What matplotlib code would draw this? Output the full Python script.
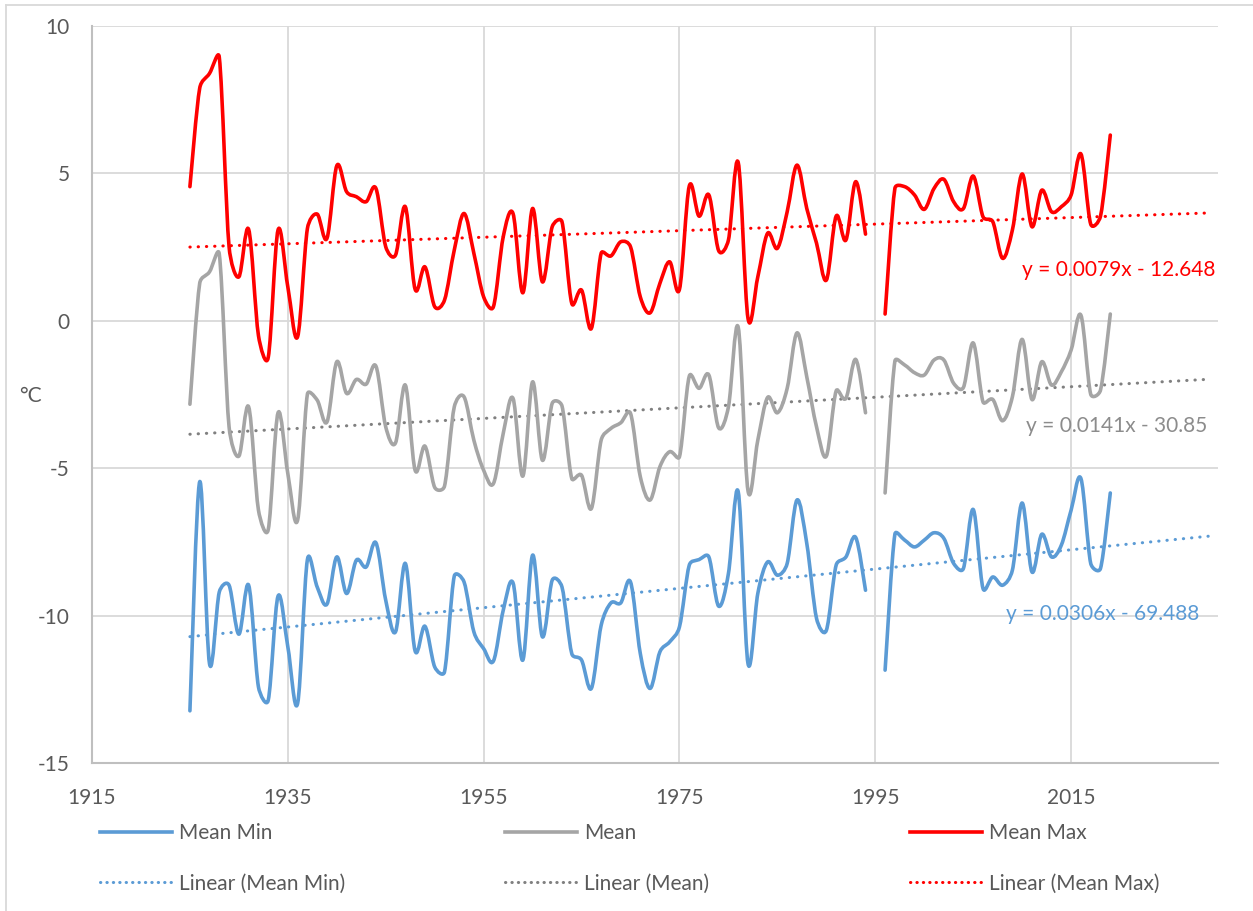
import numpy as np
import matplotlib
matplotlib.use("Agg")
import matplotlib.pyplot as plt
from matplotlib.path import Path
from matplotlib.patches import PathPatch
from matplotlib.lines import Line2D

plt.rcParams['font.family'] = ['Lato', 'DejaVu Sans']
plt.rcParams['axes.unicode_minus'] = False

# yearly values, 1995 missing
years = list(range(1925, 2020))
nan = np.nan

mean_max = [4.55, 7.89, 8.39, 8.94, 2.51, 1.49, 3.10, -0.50, -1.24, 3.08,
            1.15, -0.54, 3.13, 3.62, 2.80, 5.26, 4.38, 4.21, 4.04, 4.49,
            2.51, 2.23, 3.87, 1.07, 1.83, 0.48, 0.70, 2.40, 3.64, 2.29,
            0.81, 0.48, 2.85, 3.64, 0.95, 3.81, 1.32, 3.19, 3.36, 0.59,
            1.04, -0.26, 2.29, 2.20, 2.68, 2.51, 0.81, 0.27, 1.27, 2.00,
            1.07, 4.57, 3.55, 4.27, 2.38, 2.74, 5.37, 0.08, 1.49, 2.97,
            2.46, 3.70, 5.28, 3.81, 2.63, 1.38, 3.55, 2.74, 4.72, 2.94,
            nan,
            0.23, 4.49, 4.55, 4.27, 3.78, 4.49, 4.80, 4.04, 3.81,
            4.91, 3.53, 3.36, 2.12, 3.08, 4.98, 3.19, 4.43, 3.70, 3.87,
            4.27, 5.66, 3.28, 3.55, 6.30]

mean = [-2.83, 1.27, 1.66, 2.26, -3.60, -4.59, -2.92, -6.42, -7.08, -3.12,
        -5.18, -6.76, -2.49, -2.69, -3.43, -1.39, -2.46, -1.99, -2.15, -1.54,
        -3.60, -4.14, -2.18, -5.07, -4.25, -5.65, -5.61, -2.92, -2.58, -4.05,
        -5.07, -5.52, -3.82, -2.63, -5.27, -2.07, -4.73, -2.80, -2.89, -5.35,
        -5.24, -6.37, -4.05, -3.65, -3.46, -3.14, -5.29, -6.08, -4.95, -4.44,
        -4.61, -1.88, -2.29, -1.84, -3.63, -2.92, -0.22, -5.77, -4.05, -2.60,
        -3.12, -2.29, -0.41, -1.90, -3.60, -4.59, -2.38, -2.63, -1.31, -3.12,
        nan,
        -5.84, -1.37, -1.50, -1.76, -1.84, -1.33, -1.33, -2.12, -2.26,
        -0.75, -2.75, -2.67, -3.39, -2.58, -0.63, -2.67, -1.39, -2.18, -1.73,
        -0.99, 0.19, -2.49, -2.35, 0.23]

mean_min = [-13.23, -5.46, -11.63, -9.20, -8.97, -10.63, -8.97, -12.42, -12.87, -9.34,
            -11.06, -12.98, -8.10, -9.03, -9.61, -8.01, -9.25, -8.12, -8.35, -7.53,
            -9.48, -10.55, -8.23, -11.20, -10.36, -11.74, -11.91, -8.66, -8.86, -10.55,
            -11.12, -11.54, -9.82, -8.89, -11.51, -7.95, -10.72, -8.80, -9.03, -11.29,
            -11.51, -12.47, -10.33, -9.57, -9.57, -8.86, -11.29, -12.47, -11.23, -10.89,
            -10.38, -8.29, -8.10, -8.01, -9.68, -8.57, -5.80, -11.63, -9.25, -8.18,
            -8.63, -8.23, -6.08, -7.55, -10.10, -10.50, -8.29, -8.01, -7.35, -9.14,
            nan,
            -11.85, -7.24, -7.44, -7.67, -7.44, -7.19, -7.38, -8.23, -8.40,
            -6.40, -9.08, -8.69, -8.97, -8.46, -6.18, -8.52, -7.24, -8.01, -7.61,
            -6.42, -5.35, -8.23, -8.40, -5.84]

trend_span = [1925, 2029]
labels = ["Mean Min", "Mean", "Mean Max"]
equations = ["y = 0.0306x - 69.488", "y = 0.0141x - 30.85", "y = 0.0079x - 12.648"]
colors = ["#5B9BD5", "#A5A5A5", "#FF0000"]
trend_colors = ["#5B9BD5", "#808080", "#FF0000"]
eq_colors = ["#5B9BD5", "#8C8C8C", "#FF0000"]
eq_pos = [(2028.1, -9.95), (2028.9, -3.57), (2029.7, 1.72)]

# pixel size of one x / y unit, used so the smoothing works in screen space
SX, SY = 9.78, 29.47


def smooth_path(x, y):
    # excel-style smoothed line: bezier through each point, handles clamped
    verts, codes = [], []
    x = np.asarray(x, float)
    y = np.asarray(y, float)
    ok = ~np.isnan(y)
    runs, cur = [], []
    for i in range(len(x)):
        if ok[i]:
            cur.append(i)
        elif cur:
            runs.append(cur)
            cur = []
    if cur:
        runs.append(cur)

    def dist(a, b):
        return np.hypot((a[0] - b[0]) * SX, (a[1] - b[1]) * SY)

    for r in runs:
        pts = list(zip(x[r], y[r]))
        n = len(pts)
        verts.append(pts[0])
        codes.append(Path.MOVETO)
        for i in range(n - 1):
            p0 = pts[max(i - 1, 0)]
            p1 = pts[i]
            p2 = pts[i + 1]
            p3 = pts[min(i + 2, n - 1)]
            d12 = dist(p1, p2)
            d02 = dist(p0, p2)
            d13 = dist(p1, p3)
            f1 = 1 / 6
            f2 = 1 / 6
            if d02 / 6 > d12 / 2 and d02 > 0:
                f1 = d12 / (2 * d02)
            if d13 / 6 > d12 / 2 and d13 > 0:
                f2 = d12 / (2 * d13)
            c1 = (p1[0] + (p2[0] - p0[0]) * f1, p1[1] + (p2[1] - p0[1]) * f1)
            c2 = (p2[0] - (p3[0] - p1[0]) * f2, p2[1] - (p3[1] - p1[1]) * f2)
            verts += [c1, c2, p2]
            codes += [Path.CURVE4] * 3
    return Path(verts, codes)


fig = plt.figure(figsize=(12.53, 9.11), dpi=100)
ax = fig.add_axes([92 / 1253, 1 - 763 / 911, 1126 / 1253, 737 / 911])

series = [mean_min, mean, mean_max]
for vals, c in zip(series, colors):
    ax.add_patch(PathPatch(smooth_path(years, vals), fill=False, edgecolor=c,
                           lw=2.6, joinstyle='round', capstyle='round', zorder=3))

for vals, c in zip(series, trend_colors):
    yv = np.array(vals)
    xv = np.array(years, float)
    m = ~np.isnan(yv)
    k, b = np.polyfit(xv[m], yv[m], 1)
    tx = np.array(trend_span, float)
    ax.plot(tx, k * tx + b, color=c, lw=2.2, linestyle=(0, (0.1, 2.6)),
            dash_capstyle='round', zorder=2)

for (ex, ey), eq, c in zip(eq_pos, equations, eq_colors):
    ax.text(ex, ey, eq, color=c, fontsize=15, ha='right', va='center')

ax.set_xlim(1915, 2030)
ax.set_ylim(-15, 10)
ax.set_xticks(range(1915, 2030, 20))
ax.set_yticks(range(-15, 11, 5))
ax.grid(True, color='#D9D9D9', lw=1.3)
ax.set_axisbelow(True)
for s in ['top', 'right']:
    ax.spines[s].set_visible(False)
for s in ['left', 'bottom']:
    ax.spines[s].set_color('#BFBFBF')
    ax.spines[s].set_linewidth(1.5)
ax.tick_params(length=0, labelsize=15, labelcolor='#595959')
ax.tick_params(axis='x', pad=18)
ax.tick_params(axis='y', pad=16)

fig.text(30 / 1253, 1 - 396 / 911, "°C", fontsize=15, color='#595959',
         ha='center', va='center')

# legend: three columns, two rows each
col_x = [100, 505, 910]
for i in range(3):
    hs = [Line2D([], [], color=colors[i], lw=2.6),
          Line2D([], [], color=trend_colors[i], lw=2.2, linestyle=(0, (0.1, 2.0)),
                 dash_capstyle='round')]
    ls = [labels[i], "Linear (%s)" % labels[i]]
    fig.legend(hs, ls, loc='upper left', bbox_to_anchor=(col_x[i] / 1253, 1 - 823 / 911),
               frameon=False, fontsize=15, labelcolor='#595959', handlelength=3.45,
               handletextpad=0.33, labelspacing=1.47, borderpad=0, borderaxespad=0)

# chart area border (top and left visible)
fig.add_artist(Line2D([6 / 1253, 6 / 1253], [0, 1 - 5 / 911], transform=fig.transFigure,
                      color='#D9D9D9', lw=1.3))
fig.add_artist(Line2D([6 / 1253, 1], [1 - 5 / 911, 1 - 5 / 911], transform=fig.transFigure,
                      color='#D9D9D9', lw=1.3))

fig.savefig("out.png", dpi=100)
